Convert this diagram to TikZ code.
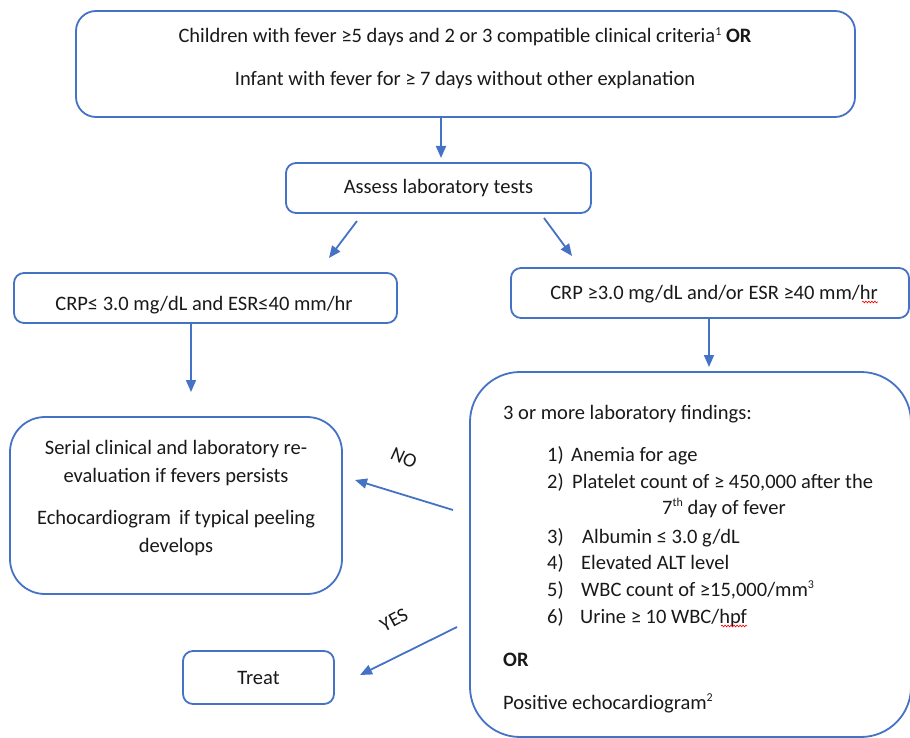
\documentclass[tikz,border=0pt]{standalone}
\usepackage{fontspec}
\setmainfont{Carlito}
\usetikzlibrary{arrows.meta,positioning,decorations.pathmorphing}

\definecolor{boxblue}{RGB}{68,114,196}
\definecolor{inkgray}{RGB}{25,25,25}
\newcommand{\sups}[1]{\raisebox{0.75ex}{\fontsize{12}{12}\selectfont #1}}

\tikzset{
    box/.style={draw=boxblue, line width=1.8pt, rounded corners=10pt, inner sep=0pt,
        text=inkgray, font=\fontsize{20.5}{27}\selectfont},
    txt/.style={inner sep=0pt, text=inkgray, font=\fontsize{20.5}{27}\selectfont},
    flow/.style={draw=boxblue, line width=1.8pt, -{Triangle[length=12pt,width=10pt]}},
    tag/.style={inner sep=0pt, text=inkgray, font=\fontsize{20}{22}\selectfont},
    spell/.style={draw=red, line width=0.6pt, decorate,
        decoration={snake, amplitude=0.9pt, segment length=3pt}}
}

\begin{document}
\begin{tikzpicture}[x=1pt,y=-1pt]
\useasboundingbox (0,0) rectangle (910,738);
\clip (0,0) rectangle (910,738);

% Entry criteria
\node[box, rounded corners=20pt, minimum width=779pt, minimum height=106pt] (entry) at (465.5,64) {};
\node[txt, align=center] (entrytxt) at (465,58.5)
    {Children with fever ≥5 days and 2 or 3 compatible clinical criteria\sups{1} \textbf{OR}\\[16pt]
     Infant with fever for ≥ 7 days without other explanation};

% Laboratory tests
\node[box, minimum width=305pt, minimum height=50pt] (assess) at (438.5,188) {Assess laboratory tests};
\coordinate (assessin) at (441,158);
\draw[flow] (entry.south -| assessin) -- (assessin);

% Split on CRP / ESR
\node[box, minimum width=383pt, minimum height=50pt] (crplow) at (205.5,298) {};
\node[txt] (crplowtxt) at (204,305) {CRP≤ 3.0 mg/dL and ESR≤40 mm/hr};
\node[box, minimum width=398pt, minimum height=50pt] (crphigh) at (710,293) {};
\node[txt, anchor=base] (crphightxt) at (714,299) {CRP ≥3.0 mg/dL and/or ESR ≥40 mm/hr};
\draw[spell] ([xshift=-16pt,yshift=-3pt]crphightxt.base east) -- ([yshift=-3pt]crphightxt.base east);
\coordinate (lowout) at (357,221);
\coordinate (lowin) at (329,258);
\coordinate (highout) at (544,218);
\coordinate (highin) at (572,256);
\draw[flow] (lowout) -- (lowin);
\draw[flow] (highout) -- (highin);

% Low branch
\node[box, rounded corners=35pt, minimum width=332pt, minimum height=177pt] (serial) at (176,505.5) {};
\node[txt, align=center, font=\fontsize{20.5}{28}\selectfont] (serialtxt) at (176,498)
    {Serial clinical and laboratory re-\\evaluation if fevers persists\\[14pt]
     Echocardiogram\, if typical peeling\\develops};
\coordinate (serialin) at (191,392);
\draw[flow] (crplow.south -| serialin) -- (serialin);

% High branch
\node[box, rounded corners=50pt, minimum width=441pt, minimum height=365pt] (findings) at (690.5,554.5) {};
\coordinate (findingsin) at (709,367);
\draw[flow] (crphigh.south -| findingsin) -- (findingsin);

\node[txt, anchor=base west] (findhead) at (503,419) {3 or more laboratory findings:};
\foreach \n/\y/\x/\item in {
    1/461/571/{Anemia for age},
    2/488/572/{Platelet count of ≥ 450,000 after the},
    3/543/582/{Albumin ≤ 3.0 g/dL},
    4/569/581/{Elevated ALT level},
    5/596/581/{WBC count of ≥15,000/mm\sups{3}},
    6/623/580/{Urine ≥ 10 WBC/hpf}}{
    \node[txt, anchor=base west] (num\n) at (547,\y) {\n)};
    \node[txt, anchor=base west] (item\n) at (\x,\y) {\item};
}
\draw[spell] ([xshift=-26pt,yshift=-3pt]item6.base east) -- ([yshift=-3pt]item6.base east);
\node[txt, anchor=base west] (item2b) at (662,514) {7\sups{th} day of fever};
\node[txt, anchor=base west, font=\fontsize{20.5}{27}\selectfont\bfseries] (findor) at (503,666) {OR};
\node[txt, anchor=base west] (echo) at (503,709) {Positive echocardiogram\sups{2}};

% Outcome
\node[box, minimum width=151pt, minimum height=53pt] (treat) at (258.5,677.5) {Treat};
\coordinate (noout) at (453,510);
\coordinate (noin) at (355,480);
\coordinate (yesout) at (457,627);
\coordinate (yesin) at (360,675);
\draw[flow] (noout) -- (noin);
\draw[flow] (yesout) -- (yesin);
\node[tag, rotate=-25] (nolabel) at (404,458) {NO};
\node[tag, rotate=28] (yeslabel) at (394,620) {YES};
\end{tikzpicture}
\end{document}
